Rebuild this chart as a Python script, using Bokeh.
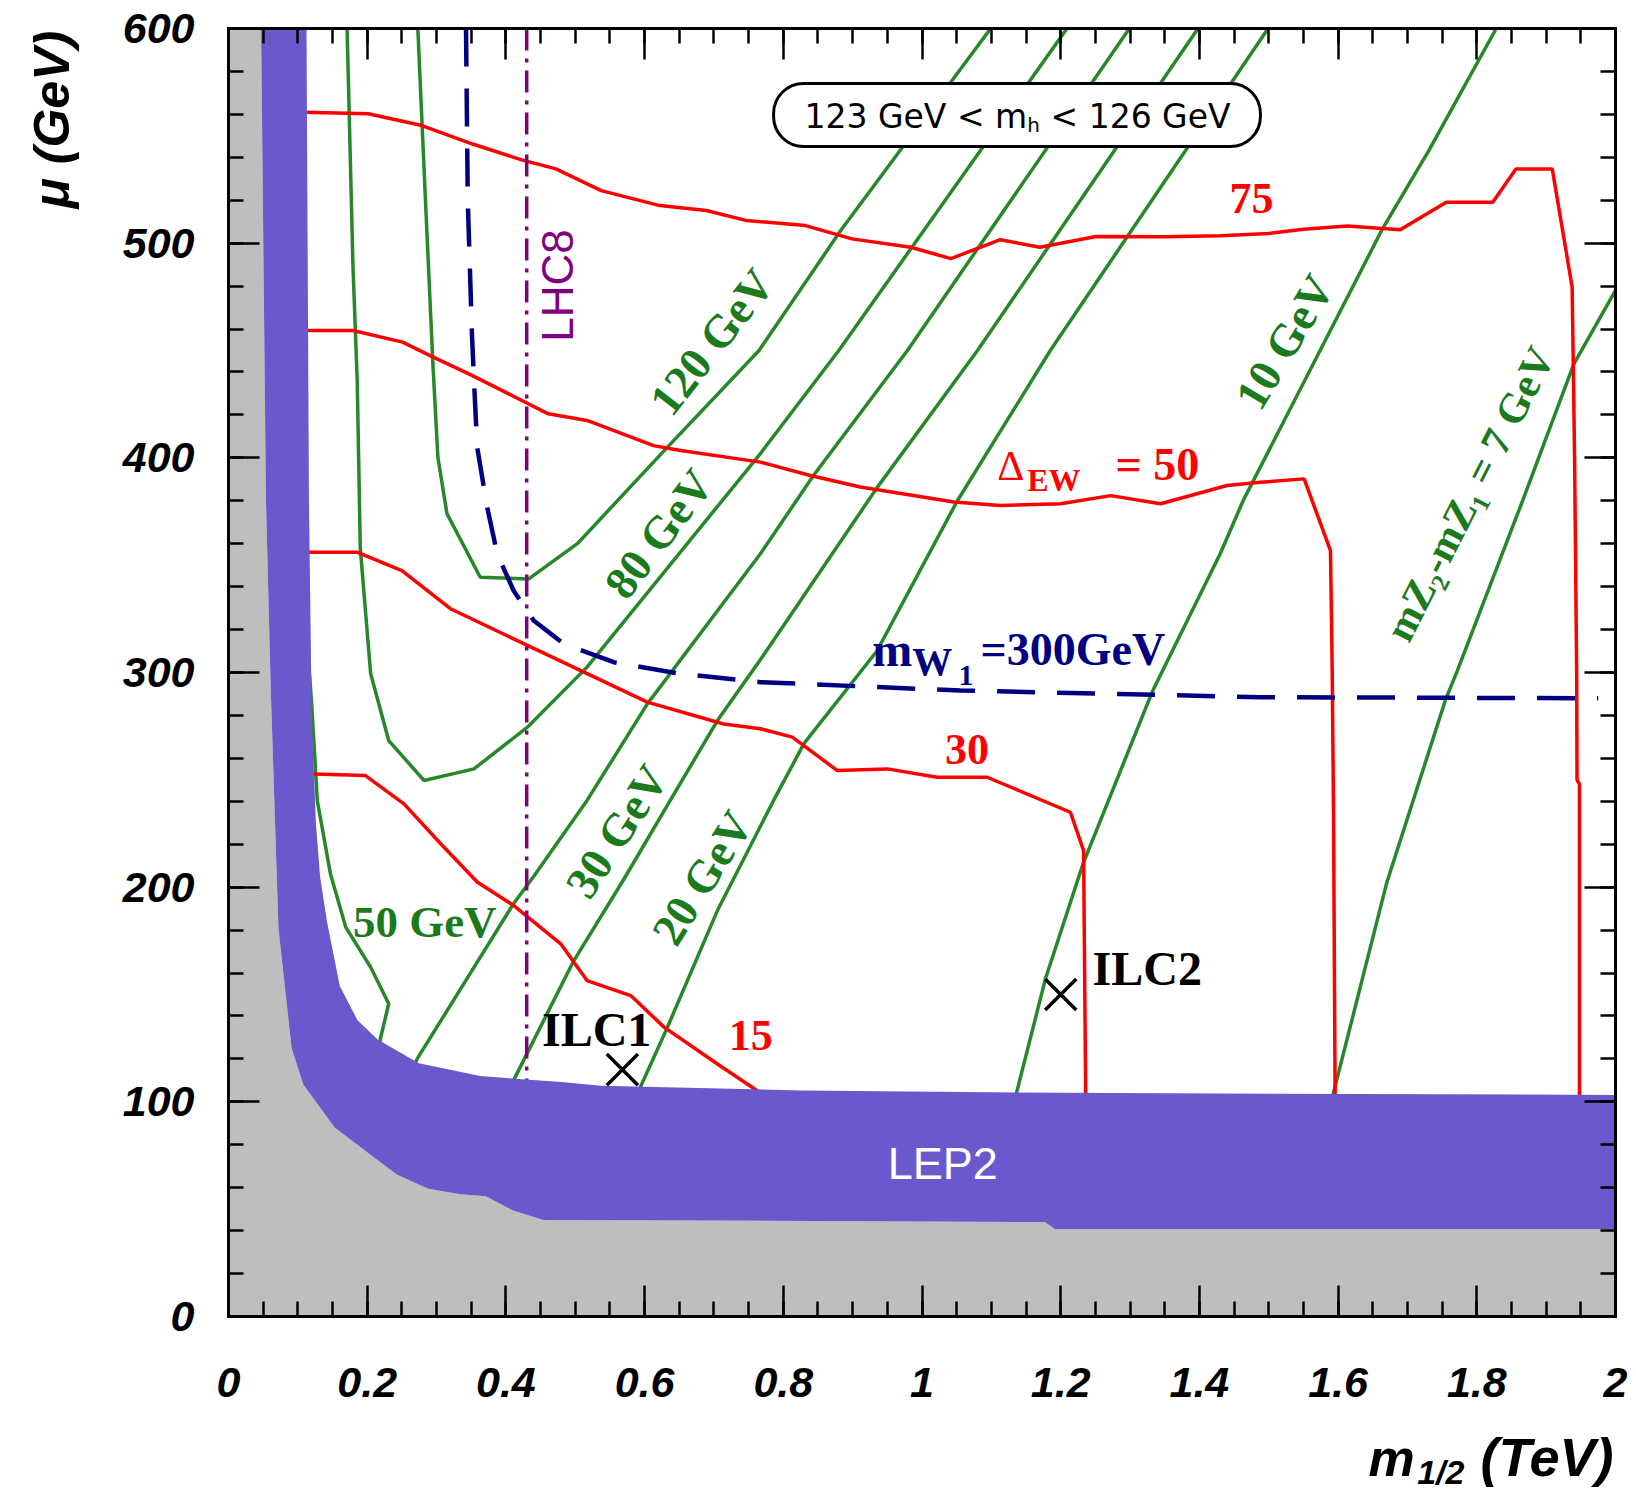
from bokeh.plotting import figure
from bokeh.models import Range1d, LinearAxis, FixedTicker, Label, BoxAnnotation
from bokeh.embed import file_html
from bokeh.resources import INLINE

# ---------------- data ----------------
X_MIN, X_MAX = 0, 2
Y_MIN, Y_MAX = 0, 600

x_ticks = [0, 0.2, 0.4, 0.6, 0.8, 1, 1.2, 1.4, 1.6, 1.8, 2]
x_tick_labels = ["0", "0.2", "0.4", "0.6", "0.8", "1", "1.2", "1.4", "1.6", "1.8", "2"]
y_ticks = [0, 100, 200, 300, 400, 500, 600]
y_tick_labels = ["0", "100", "200", "300", "400", "500", "600"]
x_minor = [round(i * 0.05, 2) for i in range(41)]
y_minor = list(range(0, 601, 20))

# LEP2 excluded band: inner (grey side) and outer edges
lep_inner_x = [0.047, 0.054, 0.061, 0.072, 0.091, 0.108, 0.153, 0.198, 0.243, 0.288, 0.334, 0.371, 0.409, 0.454, 1.177, 1.192, 2.0]
lep_inner_y = [600, 380, 291, 181, 125, 108, 88, 77, 66, 59.5, 57, 56, 49.5, 45, 44, 40.6, 40.6]
lep_outer_x = [0.1125, 0.116, 0.120, 0.126, 0.132, 0.142, 0.1605, 0.186, 0.215, 0.2745, 0.363, 0.480, 0.537, 0.825, 1.2, 2.0]
lep_outer_y = [600, 380, 280, 230, 205, 184, 154, 138, 129, 118, 112, 109.2, 107.5, 105.3, 104.2, 103.2]

# Delta_EW contours
d75_x = [0.11, 0.2016, 0.279, 0.351, 0.4226, 0.472, 0.5375, 0.622, 0.689, 0.746, 0.832, 0.899, 0.984, 1.0416,
         1.113, 1.170, 1.251, 1.35, 1.43, 1.50, 1.5500, 1.6134, 1.6895, 1.756, 1.823, 1.8564, 1.9088, 1.9375,
         1.941, 1.944, 1.9445, 1.948, 1.948]
d75_y = [561, 560.3, 554.8, 546.3, 538.8, 534.6, 524.5, 517.5, 515.2, 510.6, 508.2, 502, 498.1, 492.8,
         501.6, 498.1, 503.1, 503, 503.5, 504.5, 506.5, 508, 506.2, 519.1, 519.1, 534.6, 534.6, 479.5,
         400, 300, 250, 248, 95]
d50_x = [0.11, 0.1795, 0.251, 0.290, 0.351, 0.428, 0.461, 0.517, 0.613, 0.652, 0.767, 0.839, 0.911, 1.046,
         1.113, 1.20, 1.272, 1.344, 1.44, 1.488, 1.551, 1.589, 1.5915, 1.5934, 1.5957, 1.596]
d50_y = [459.3, 459.3, 453.9, 447.7, 438.4, 425.9, 420.5, 417.4, 405.7, 403.4, 398, 391.8, 386.4, 379.4,
         377.8, 378.6, 382.4, 378.6, 387.1, 388.6, 390.2, 356.8, 300.9, 234, 103.8, 95]
d30_x = [0.11, 0.186, 0.250, 0.320, 0.431, 0.508, 0.604, 0.714, 0.767, 0.813, 0.878, 0.950, 1.022, 1.094,
         1.214, 1.233, 1.236, 1.237]
d30_y = [356, 356, 347.5, 329.7, 312.6, 300.9, 286.2, 276, 273.8, 269.9, 254.3, 255.1, 251.2, 251.2,
         234.9, 217, 103.8, 95]
d15_x = [0.11, 0.1975, 0.253, 0.306, 0.359, 0.411, 0.479, 0.517, 0.580, 0.628, 0.705, 0.762, 0.78]
d15_y = [252.8, 252, 238.8, 220.2, 202.3, 191.5, 173.6, 156.5, 149.5, 134.8, 117.6, 105.3, 97]

# mass-gap contours (green)
g120_x = [0.273, 0.284, 0.295, 0.302, 0.315, 0.363, 0.433, 0.503, 0.633, 0.765, 0.883, 1.099]
g120_y = [600, 520, 442, 400, 374, 344.4, 343.6, 360, 405, 450, 506, 600]
g80_x = [0.171, 0.1795, 0.1856, 0.190, 0.205, 0.231, 0.282, 0.354, 0.431, 0.517, 0.767, 0.880, 1.209]
g80_y = [600, 489, 436, 358, 299.4, 268.3, 249.7, 255.1, 274.5, 302.5, 402, 450, 600]
g50a_x = [0.112, 0.120, 0.128, 0.147, 0.169, 0.205, 0.231, 0.219, 0.214]
g50a_y = [320, 285, 240.4, 206.2, 181.4, 162.7, 145.7, 129.4, 118]
g50b_x = [0.255, 0.272, 0.411, 0.440, 0.517, 0.604, 0.767, 0.844, 0.979, 1.299]
g50b_y = [108, 120, 192.3, 205, 240.4, 285.4, 355.3, 392, 450, 600]
g30_x = [0.400, 0.411, 0.498, 0.569, 0.637, 0.705, 0.767, 0.935, 1.08, 1.398]
g30_y = [104, 110, 165.8, 203.1, 240.4, 277.6, 306, 386, 450, 600]
g20_x = [0.590, 0.594, 0.633, 0.705, 0.786, 0.83, 0.935, 1.051, 1.185, 1.499]
g20_y = [101, 106.9, 134.8, 189.1, 240.4, 267, 310, 380, 450, 600]
g10_x = [1.130, 1.136, 1.178, 1.232, 1.332, 1.430, 1.463, 1.664, 1.731, 1.828]
g10_y = [95, 103.8, 157.3, 210.7, 291, 355.3, 380, 506.7, 543.2, 600]
g7_x = [1.588, 1.593, 1.670, 1.755, 1.772, 1.866, 1.940, 2.0]
g7_y = [95, 103.8, 201.9, 287.4, 300.9, 380, 443.8, 478]

# m_W1 = 300 GeV contour (dashed)
w1_x = [0.3425, 0.345, 0.351, 0.354, 0.3586, 0.373, 0.3875, 0.411, 0.440, 0.4835, 0.5556, 0.652, 0.767,
        1.0555, 1.488, 1.975]
w1_y = [600, 520, 458, 436, 405, 377, 355.3, 338.2, 324.2, 313.3, 304.8, 299.4, 295.5, 291.6, 288.5, 288]

# LHC8 reach
lhc8_x = [0.43, 0.43]
lhc8_y = [600, 110]

# ILC benchmark points
ilc_x = [0.568, 1.2]
ilc_y = [115, 150]

# ---------------- style / layout ----------------
RED = "#ff0000"
GREEN = "#27882a"
GREEN_TXT = "#1a7a1c"
NAVY = "#000080"
PURPLE = "#800080"
SLATE = "#6959cd"
GREY = "#bebebe"
SERIF = "Liberation Serif"
SANS = "Liberation Sans"

W, H = 1636, 1495
PX_LEFT, PX_RIGHT, PX_TOP, PX_BOTTOM = 228, 1615, 28, 1316
xs = (PX_RIGHT - PX_LEFT) / (X_MAX - X_MIN)
ys = (PX_BOTTOM - PX_TOP) / (Y_MAX - Y_MIN)
x_range = Range1d(X_MIN - PX_LEFT / xs, X_MAX + (W - PX_RIGHT) / xs)
y_range = Range1d(Y_MIN - (H - PX_BOTTOM) / ys, Y_MAX + PX_TOP / ys)

p = figure(width=W, height=H, x_range=x_range, y_range=y_range,
           x_axis_type=None, y_axis_type=None,
           output_backend="svg", toolbar_location=None,
           min_border=0, min_border_left=0, min_border_right=0, min_border_top=0, min_border_bottom=0)
p.outline_line_color = None
p.background_fill_color = "white"
p.border_fill_color = "white"


def style_axis(ax, show):
    ax.axis_line_width = 3
    ax.axis_line_color = "black"
    ax.axis_line_cap = "square"
    ax.major_tick_in = 31
    ax.major_tick_out = 0
    ax.minor_tick_in = 15
    ax.minor_tick_out = 0
    ax.major_tick_line_width = 2.5
    ax.minor_tick_line_width = 2.5
    if show:
        ax.major_label_text_font = SANS
        ax.major_label_text_font_style = "bold italic"
        ax.major_label_text_font_size = "43px"
        ax.major_label_text_color = "black"
    else:
        ax.major_label_text_color = None
        ax.major_label_text_font_size = "1px"
        ax.major_label_standoff = 0


xb = LinearAxis(ticker=FixedTicker(ticks=x_ticks, minor_ticks=x_minor),
                major_label_overrides=dict(zip(x_ticks, x_tick_labels)),
                fixed_location=Y_MIN, bounds=(X_MIN, X_MAX))
style_axis(xb, True)
xb.major_label_standoff = 51
p.add_layout(xb, "below")

xt = LinearAxis(ticker=FixedTicker(ticks=x_ticks, minor_ticks=x_minor),
                fixed_location=Y_MAX, bounds=(X_MIN, X_MAX))
style_axis(xt, False)
p.add_layout(xt, "above")

yl = LinearAxis(ticker=FixedTicker(ticks=y_ticks, minor_ticks=y_minor),
                major_label_overrides=dict(zip(y_ticks, y_tick_labels)),
                fixed_location=X_MIN, bounds=(Y_MIN, Y_MAX))
style_axis(yl, True)
yl.major_label_standoff = 34
p.add_layout(yl, "left")

yr = LinearAxis(ticker=FixedTicker(ticks=y_ticks, minor_ticks=y_minor),
                fixed_location=X_MAX, bounds=(Y_MIN, Y_MAX))
style_axis(yr, False)
p.add_layout(yr, "right")

# contour lines
for gx, gy in [(g120_x, g120_y), (g80_x, g80_y), (g50a_x, g50a_y), (g50b_x, g50b_y),
               (g30_x, g30_y), (g20_x, g20_y), (g10_x, g10_y), (g7_x, g7_y)]:
    p.line(gx, gy, line_color=GREEN, line_width=3.5)

for rx, ry in [(d75_x, d75_y), (d50_x, d50_y), (d30_x, d30_y), (d15_x, d15_y)]:
    p.line(rx, ry, line_color=RED, line_width=3.5)

p.line(w1_x, w1_y, line_color=NAVY, line_width=4.5, line_dash="38 22")
p.line(lhc8_x, lhc8_y, line_color=PURPLE, line_width=3.5, line_dash="22 8 4 8")

# excluded regions
grey_x = [X_MIN] + lep_inner_x + [X_MAX, X_MIN]
grey_y = [Y_MAX] + lep_inner_y + [Y_MIN, Y_MIN]
p.patch(grey_x, grey_y, fill_color=GREY, line_color=None)

band_x = lep_outer_x + lep_inner_x[::-1]
band_y = lep_outer_y + lep_inner_y[::-1]
p.patch(band_x, band_y, fill_color=SLATE, line_color=None)

p.scatter(ilc_x, ilc_y, marker="x", size=44, line_color="black", line_width=3.5)


def lab(x, y, text, size, color, font=SERIF, style="bold", angle=0, align="left", baseline="middle"):
    p.add_layout(Label(x=x, y=y, text=text, text_font=font, text_font_size=f"{size}px",
                       text_font_style=style, text_color=color, angle=angle, angle_units="deg",
                       text_align=align, text_baseline=baseline))


# Higgs mass box
p.add_layout(BoxAnnotation(left=0.786, right=1.488, bottom=545, top=574.4,
                           fill_color="white", fill_alpha=1.0, line_color="black", line_alpha=1.0,
                           line_width=3, border_radius=30))
lab(1.1517, 559.0, "123 GeV < m", 33, "black", font="DejaVu Sans", style="normal", align="right")
lab(1.1517, 554.9, "h", 20, "black", font="DejaVu Sans", style="normal")
lab(1.1853, 559.0, "< 126 GeV", 33, "black", font="DejaVu Sans", style="normal")

# Delta_EW labels
lab(1.475, 520.7, "75", 44, RED, align="center")
lab(1.1084, 396.1, "\u0394", 42, RED, style="normal")
lab(1.1517, 389.9, "EW", 32, RED)
lab(1.279, 396.7, "= 50", 46, RED)
lab(1.065, 264, "30", 44, RED, align="center")
lab(0.753, 130.9, "15", 44, RED, align="center")

# m_W1 label
lab(0.9282, 310.9, "m", 48, NAVY)
lab(0.9859, 304.9, "W", 40, NAVY)
lab(1.0526, 298.7, "1", 30, NAVY)
lab(1.0844, 310.5, "=300GeV", 46, NAVY)

# ILC points
lab(0.452, 133.8, "ILC1", 48, "black")
lab(1.246, 162.2, "ILC2", 48, "black")

# green labels
lab(0.283, 183.8, "50 GeV", 45, GREEN_TXT, align="center")
lab(0.697, 454, "120 GeV", 46, GREEN_TXT, angle=52, align="center")
lab(0.6205, 364.6, "80 GeV", 46, GREEN_TXT, angle=53, align="center")
lab(0.560, 226, "30 GeV", 46, GREEN_TXT, angle=57, align="center")
lab(0.683, 204.3, "20 GeV", 46, GREEN_TXT, angle=58, align="center")
lab(1.523, 453.9, "10 GeV", 46, GREEN_TXT, angle=59, align="center")
lab(1.79, 383.2, "mZ\u2082-mZ\u2081 = 7 GeV", 42, GREEN_TXT, angle=63, align="center")

# LHC8 and LEP2
lab(0.4751, 480.3, "LHC8", 44, PURPLE, font=SANS, style="normal", angle=90, align="center")
lab(1.03, 71.5, "LEP2", 45, "white", font=SANS, style="normal", align="center")

# axis titles
lab(1.6438, -65.7, "m", 52, "black", font=SANS, style="bold italic")
lab(1.714, -72.3, "1/2", 34, "black", font=SANS, style="bold italic")
lab(1.8053, -65.4, "(TeV)", 54, "black", font=SANS, style="bold italic")
lab(-0.2538, 557.6, "\u03bc (GeV)", 50, "black", font=SANS, style="bold italic", angle=90, align="center")

open("out.html", "w").write(file_html(p, INLINE))
